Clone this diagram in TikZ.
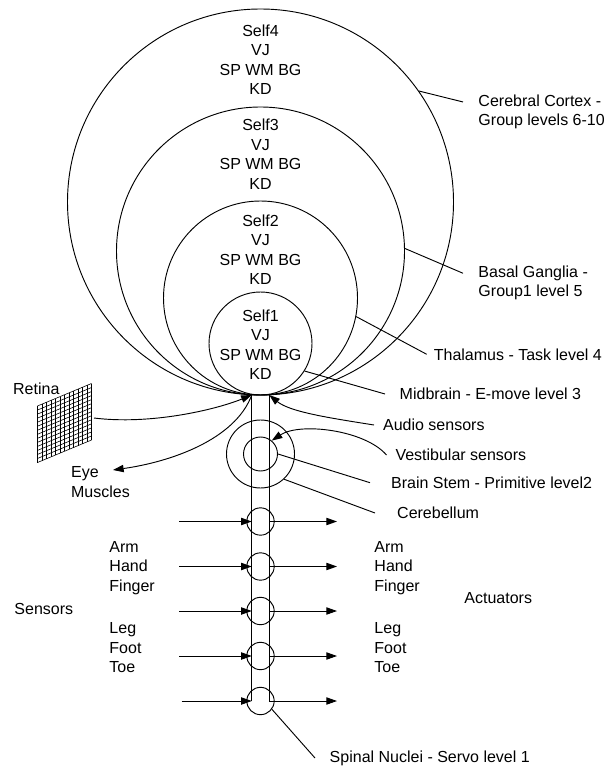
\documentclass[tikz,border=0pt]{standalone}
\usepackage{fontspec}
\setmainfont{Liberation Sans}
\usetikzlibrary{arrows.meta}

\begin{document}
\begin{tikzpicture}[
  x=0.75pt, y=-0.75pt,
  line width=0.7pt,
  every node/.style={font=\fontsize{12pt}{14.6pt}\selectfont},
  ring/.style={circle, draw, inner sep=0pt, minimum size=#1},
  seg/.style={ring=20.5pt},
  txt/.style={align=center, inner sep=0pt},
  lbl/.style={anchor=west, align=left, inner ysep=0pt, inner xsep=#1},
  lbl/.default=0pt,
  arr/.style={-{Triangle[length=8pt, width=5.5pt]}},
  gridline/.style={line width=0.45pt},
]
\useasboundingbox (0,0) rectangle (603,766);
% ---- brain levels: nested rings that all touch the top of the spine
\node[ring=289.5pt] (cortexring) at (260.5,202) {};
\node[ring=216pt] (gangliaring) at (260.5,251) {};
\node[ring=145.5pt] (thalamusring) at (260.5,298) {};
\node[ring=77.25pt] (midbrainring) at (260.5,343.5) {};
\node[txt] (self4) at (260.5,59.7) {Self4\\VJ\\SP WM BG\\KD};
\node[txt] (self3) at (260.5,154.2) {Self3\\VJ\\SP WM BG\\KD};
\node[txt] (self2) at (260.5,249.7) {Self2\\VJ\\SP WM BG\\KD};
\node[txt] (self1) at (260.5,344.8) {Self1\\VJ\\SP WM BG\\KD};
% ---- level names on the right
\node[lbl=11.25pt] (cortexlbl) at (463,111.7) {Cerebral Cortex -\\Group levels 6-10};
\node[lbl=11.25pt] (ganglialbl) at (463,283) {Basal Ganglia -\\Group1 level 5};
\node[lbl=5pt] (thalamuslbl) at (426.7,354.3) {Thalamus - Task level 4};
\node[lbl=10.7pt] (midbrainlbl) at (385,394) {Midbrain - E-move level 3};
\draw (cortexring.35) -- ([yshift=7.3pt]cortexlbl.west);
\draw (gangliaring.1) -- ([yshift=7.3pt]ganglialbl.west);
\draw (thalamusring.-11) -- (thalamuslbl.west);
\draw (midbrainring.-32) -- (midbrainlbl.west);
% ---- spine and brain stem
\node[inner sep=0pt, outer sep=0pt, minimum width=13.1pt, minimum height=229.5pt] (spine) at (260.5,548) {};
\draw (spine.north west) -- (spine.south west) (spine.north east) -- (spine.south east);
\node[ring=51pt] (cerebellumring) at (260.5,454) {};
\node[ring=25.5pt] (stemring) at (260.5,454) {};
\node[lbl=6.5pt] (audiolbl) at (374,425) {Audio sensors};
\node[lbl=6.4pt] (vestiblbl) at (386.5,455) {Vestibular sensors};
\node[lbl=15.5pt] (stemlbl) at (370,482.7) {Brain Stem - Primitive level2};
\node[lbl=16.3pt] (cerebellumlbl) at (375,513) {Cerebellum};
\draw[arr] (audiolbl.west) .. controls (330,418) and (290,412) .. (spine.north east);
\draw[arr] (vestiblbl.west) .. controls (365,430) and (300,422) .. (stemring.50);
\draw (stemring.east) -- (stemlbl.west);
\draw (cerebellumring.-47) -- (cerebellumlbl.west);
% ---- eye: retina in, eye muscles out
\foreach \i in {0,...,12}
  \draw[gridline] (37.5+4.5*\i, 406-1.875*\i) -- ++(0,56.5);
\foreach \j in {0,...,14}
  \draw[gridline] (37.5, 406+4.0357*\j) -- ++(54,-22.5);
\coordinate (retinaport) at (94,418);
\coordinate (eyetip) at (113,470);
\node[lbl] (retinalbl) at (12.7,388.3) {Retina};
\node[lbl] (eyelbl) at (70.7,482.3) {Eye\\Muscles};
\draw[arr] (retinaport) .. controls (150,425) and (215,410) .. (spine.north west);
\draw[arr] (spine.north west) .. controls (235,440) and (170,462) .. (eyetip);
% ---- spinal segments: sensors in from the left, actuators out to the right
\node[seg] (seg1) at (260.5,521.5) {};
\node[seg] (seg2) at (260.5,566.5) {};
\node[seg] (seg3) at (260.5,611) {};
\node[seg] (seg4) at (260.5,656) {};
\node[seg] (seg5) at (260.5,701) {};
\coordinate (in1) at (179,521.5);
\coordinate (in2) at (179,566.5);
\coordinate (in3) at (179,611);
\coordinate (in4) at (179,656);
\coordinate (in5) at (181.7,701);
\coordinate (out1) at (337,521.5);
\coordinate (out2) at (337,566.5);
\coordinate (out3) at (337,611);
\coordinate (out4) at (337,656);
\coordinate (out5) at (337,701);
\draw[arr] (in1) -- (in1 -| spine.west);
\draw[arr] (in2) -- (in2 -| spine.west);
\draw[arr] (in3) -- (in3 -| spine.west);
\draw[arr] (in4) -- (in4 -| spine.west);
\draw[arr] (in5) -- (in5 -| spine.west);
\draw[arr] (out1 -| spine.east) -- (out1);
\draw[arr] (out2 -| spine.east) -- (out2);
\draw[arr] (out3 -| spine.east) -- (out3);
\draw[arr] (out4 -| spine.east) -- (out4);
\draw[arr] (out5 -| spine.east) -- (out5);
\node[lbl] (sensorslbl) at (14,609) {Sensors};
\node[lbl] (armin) at (109,567.7) {Arm\\Hand\\Finger};
\node[lbl] (legin) at (109,647.7) {Leg\\Foot\\Toe};
\node[lbl] (armout) at (374,567.7) {Arm\\Hand\\Finger};
\node[lbl] (legout) at (374,647.7) {Leg\\Foot\\Toe};
\node[lbl] (actuatorslbl) at (464,597.7) {Actuators};
\node[lbl=10.7pt] (spinallbl) at (315,758) {Spinal Nuclei - Servo level 1};
\draw (seg5.-36) -- (spinallbl.west);
\end{tikzpicture}
\end{document}
